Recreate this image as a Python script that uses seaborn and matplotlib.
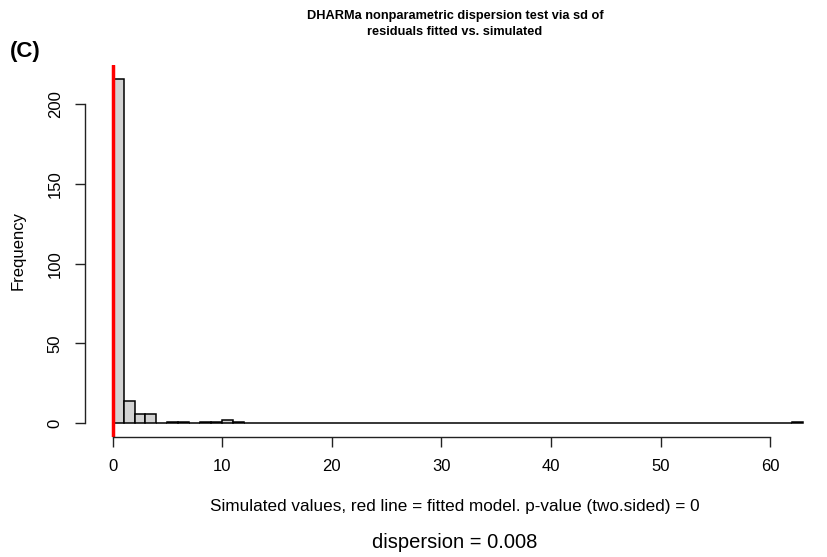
import pandas as pd
import matplotlib
matplotlib.use("Agg")
import matplotlib.pyplot as plt
import seaborn as sns

# histogram of 250 simulated dispersion values (bin left edge, count), width-1 bins
sim_bins = [0, 1, 2, 3, 5, 6, 8, 9, 10, 11, 62]
sim_counts = [216, 14, 6, 6, 1, 1, 1, 1, 2, 1, 1]
observed = 0.008

x_ticks = [0, 10, 20, 30, 40, 50, 60]
y_ticks = [0, 50, 100, 150, 200]

title = "DHARMa nonparametric dispersion test via sd of\nresiduals fitted vs. simulated"
x_label = "Simulated values, red line = fitted model. p-value (two.sided) = 0"
sub_label = "dispersion = 0.008"

sns.set_style("ticks")
plt.rcParams["font.family"] = ["Liberation Sans", "DejaVu Sans"]
plt.rcParams.update({"text.color": "black", "axes.labelcolor": "black",
                     "xtick.color": "black", "ytick.color": "black",
                     "axes.edgecolor": "black"})

df = pd.DataFrame({"value": sim_bins, "n": sim_counts})

fig = plt.figure(figsize=(8.27, 5.57), dpi=100)
ax = fig.add_axes([85 / 827, 120 / 557, 740 / 827, 372 / 557])

sns.histplot(data=df, x="value", weights="n", binwidth=1, binrange=(0, 63),
             stat="count", color="lightgrey", edgecolor="black", linewidth=1.1,
             alpha=1, ax=ax)
ax.axvline(observed, color="red", lw=2.5)

ax.set_xlim(-2.52, 65.0)
ax.set_ylim(-8.64, 224.64)
ax.set_xticks(x_ticks)
ax.set_yticks(y_ticks)
ax.set_xlabel("")
ax.set_ylabel("")
for s in ["top", "right"]:
    ax.spines[s].set_visible(False)
ax.spines["left"].set_bounds(0, 200)
ax.spines["bottom"].set_bounds(0, 60)
for s in ["left", "bottom"]:
    ax.spines[s].set_linewidth(1.0)
    ax.spines[s].set_color("#222222")
ax.tick_params(axis="both", length=7, width=1.0, color="#222222",
               labelcolor="black", labelsize=12)
ax.tick_params(axis="x", pad=9)
ax.tick_params(axis="y", pad=9)
for lab in ax.get_yticklabels():
    lab.set_rotation(90)
    lab.set_va("center")

fig.text(455 / 827, 1 - 24 / 557, title, ha="center", va="center",
         fontsize=9.2, fontweight="bold", linespacing=1.35)
fig.text(10 / 827, 1 - 52 / 557, "(C)", ha="left", va="center",
         fontsize=16, fontweight="bold")
fig.text(18 / 827, 1 - 251 / 557, "Frequency", rotation=90,
         ha="center", va="center", fontsize=12)
fig.text(455 / 827, 1 - 507 / 557, x_label, ha="center", va="center", fontsize=12.3)
fig.text(455 / 827, 1 - 543 / 557, sub_label, ha="center", va="center", fontsize=14.5)

fig.savefig("out.png", dpi=100)
